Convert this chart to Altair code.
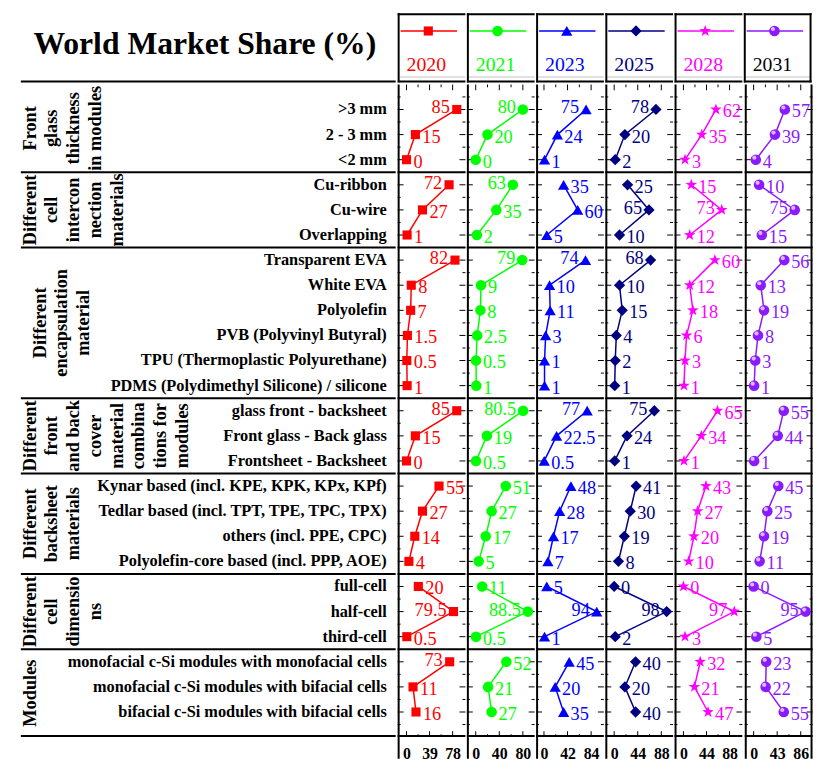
import altair as alt
import pandas as pd

FONT = "Liberation Serif"
TITLE = "World Market Share (%)"
STAR = ("M0,-1L0.235,-0.324L0.951,-0.309L0.38,0.124L0.588,0.809L0,0.4"
        "L-0.588,0.809L-0.38,0.124L-0.951,-0.309L-0.235,-0.324Z")

years = ["2020", "2021", "2023", "2025", "2028", "2031"]
colors = ["#FF0000", "#00FF00", "#0000FF", "#000080", "#FF00FF", "#8B1AFF"]
year_text_colors = ["#FF0000", "#00FF00", "#0000FF", "#000080", "#FF00FF", "#000000"]
shapes = ["square", "circle", "triangle-up", "diamond", STAR, "circle"]
shape_sizes = [85, 115, 130, 130, 150, 115]
tick_max = [78, 80, 84, 88, 88, 86]
x_domains = [[-15, 99.6], [-15, 100], [-14, 106.7], [-16.5, 110], [-16.9, 112.3], [-16.1, 107.5]]
left_label_from = [63, 63, 63, 63, 66, 63]

group_titles = [
    ["Front", "glass", "thickness", "in modules"],
    ["Different", "cell", "intercon", "nection", "materials"],
    ["Different", "encapsulation", "material"],
    ["Different", "front", "and back", "cover", "material", "combina", "tions for", "modules"],
    ["Different", "backsheet", "materials"],
    ["Different", "cell", "dimensio", "ns"],
    ["Modules"],
]
group_items = [
    [">3 mm", "2 - 3 mm", "<2 mm"],
    ["Cu-ribbon", "Cu-wire", "Overlapping"],
    ["Transparent EVA", "White EVA", "Polyolefin", "PVB (Polyvinyl Butyral)",
     "TPU (Thermoplastic Polyurethane)", "PDMS (Polydimethyl Silicone) / silicone"],
    ["glass front - backsheet", "Front glass - Back glass", "Frontsheet - Backsheet"],
    ["Kynar based (incl. KPE, KPK, KPx, KPf)", "Tedlar based (incl. TPT, TPE, TPC, TPX)",
     "others (incl. PPE, CPC)", "Polyolefin-core based (incl. PPP, AOE)"],
    ["full-cell", "half-cell", "third-cell"],
    ["monofacial c-Si modules with monofacial cells", "monofacial c-Si modules with bifacial cells",
     "bifacial c-Si modules with bifacial cells"],
]

v2020 = [85, 15, 0, 72, 27, 1, 82, 8, 7, 1.5, 0.5, 1, 85, 15, 0, 55, 27, 14, 4, 20, 79.5, 0.5, 73, 11, 16]
v2021 = [80, 20, 0, 63, 35, 2, 79, 9, 8, 2.5, 0.5, 1, 80.5, 19, 0.5, 51, 27, 17, 5, 11, 88.5, 0.5, 52, 21, 27]
v2023 = [75, 24, 1, 35, 60, 5, 74, 10, 11, 3, 1, 1, 77, 22.5, 0.5, 48, 28, 17, 7, 5, 94, 1, 45, 20, 35]
v2025 = [78, 20, 2, 25, 65, 10, 68, 10, 15, 4, 2, 1, 75, 24, 1, 41, 30, 19, 8, 0, 98, 2, 40, 20, 40]
v2028 = [62, 35, 3, 15, 73, 12, 60, 12, 18, 6, 3, 1, 65, 34, 1, 43, 27, 20, 10, 0, 97, 3, 32, 21, 47]
v2031 = [57, 39, 4, 10, 75, 15, 56, 13, 19, 8, 3, 1, 55, 44, 1, 45, 25, 19, 11, 0, 95, 5, 23, 22, 55]
values = [v2020, v2021, v2023, v2025, v2028, v2031]

# ---------------- layout ----------------
W, H = 68.5, 660
HH = 70
LW = 379
EXT = 22
Y_DOM = [-1, 25]
ys = alt.Scale(domain=Y_DOM, reverse=True, nice=False, zero=False)

rows = []
i = 0
for g, its in enumerate(group_items):
    for it in its:
        rows.append({"idx": i, "group": g, "item": it})
        i += 1
base = pd.DataFrame(rows)
n_items = len(base)

sep_vals = []
centers = []
for g in range(len(group_items)):
    sub = base[base.group == g]
    s = Y_DOM[0] if g == 0 else float(sub.idx.min()) - 0.5
    e = Y_DOM[1] if g == len(group_items) - 1 else float(sub.idx.max()) + 0.5
    centers.append((s + e) / 2)
    if g > 0:
        sep_vals.append(s)
sep_df = pd.DataFrame({"b": sep_vals})
ymaj_df = pd.DataFrame({"i": list(range(n_items))})
ymin_df = pd.DataFrame({"i": [k + 0.5 for k in range(-1, n_items)]})
one = pd.DataFrame({"a": [0]})


def box(x1, x2, y1, y2, color="black"):
    return alt.Chart(one).mark_rect(color=color).encode(
        x=alt.value(x1), x2=alt.value(x2), y=alt.value(y1), y2=alt.value(y2))


def panel(k):
    df = base.copy()
    df["value"] = values[k]
    df["side"] = ["L" if v >= left_label_from[k] else "R" for v in values[k]]
    xs = alt.Scale(domain=x_domains[k], nice=False, zero=False)
    tmax = tick_max[k]
    major = pd.DataFrame({"t": [0, tmax / 2, tmax]})
    minor = pd.DataFrame({"t": [tmax / 4, 3 * tmax / 4]})
    col = colors[k]
    xaxis = alt.Axis(values=[0, tmax / 2, tmax], title=None, ticks=False, tickSize=0, domain=False,
                     grid=False, labelFont=FONT, labelFontWeight="bold", labelFontSize=16,
                     labelColor="black", labelPadding=9, format="d", labelOverlap=False,
                     labelFlush=False)
    Yi = alt.Y("i:Q", scale=ys, axis=None)
    Xt = alt.X("t:Q", scale=xs, axis=xaxis)
    Yv = alt.Y("idx:Q", scale=ys, axis=None)
    Xv = alt.X("value:Q", scale=xs, axis=xaxis)

    layers = []
    layers.append(alt.Chart(df).mark_line(color=col, strokeWidth=1.5).encode(
        x=Xv, y=Yv, detail="group:N", order="idx:Q"))
    layers.append(alt.Chart(sep_df).mark_tick(color="black", orient="horizontal", thickness=2,
                                              size=W, opacity=1).encode(
        y=alt.Y("b:Q", scale=ys, axis=None), x=alt.value(W / 2)))
    for d, ln in ((ymaj_df, 6), (ymin_df, 3)):
        layers.append(alt.Chart(d).mark_tick(color="black", orient="horizontal", thickness=1,
                                             size=ln, opacity=1).encode(y=Yi, x=alt.value(ln / 2)))
        layers.append(alt.Chart(d).mark_tick(color="black", orient="horizontal", thickness=1,
                                             size=ln, opacity=1).encode(y=Yi, x=alt.value(W - ln / 2)))
    for d, ln in ((major, 6), (minor, 3)):
        layers.append(alt.Chart(d).mark_tick(color="black", orient="vertical", thickness=1,
                                             size=ln, opacity=1).encode(x=Xt, y=alt.value(H - ln / 2)))
        layers.append(alt.Chart(d).mark_tick(color="black", orient="vertical", thickness=1,
                                             size=ln, opacity=1).encode(x=Xt, y=alt.value(ln / 2)))
    layers.append(box(0, 2, 0, H + EXT))
    layers.append(box(0, W, H - 2, H))
    if k == len(years) - 1:
        layers.append(box(W - 2, W, 0, H + EXT))
    layers.append(alt.Chart(df).mark_point(shape=shapes[k], filled=True, size=shape_sizes[k],
                                           color=col, opacity=1).encode(x=Xv, y=Yv))
    if k == len(years) - 1:
        layers.append(alt.Chart(df).mark_point(shape="circle", filled=True, size=18,
                                               color="#D8B8FF", opacity=1).encode(
            x=Xv, y=Yv, xOffset=alt.value(-1.5), yOffset=alt.value(-2)))
    layers.append(alt.Chart(df).transform_filter("datum.side == 'R'").mark_text(
        font=FONT, fontSize=18.5, color=col, align="left", baseline="middle", dx=7, dy=2).encode(
        x=Xv, y=Yv, text=alt.Text("value:Q", format="~g")))
    layers.append(alt.Chart(df).transform_filter("datum.side == 'L'").mark_text(
        font=FONT, fontSize=18.5, color=col, align="right", baseline="middle", dx=-7, dy=-2).encode(
        x=Xv, y=Yv, text=alt.Text("value:Q", format="~g")))
    return alt.layer(*layers).properties(width=W, height=H)


def header(k):
    d = pd.DataFrame({"year": [years[k]]})
    b = alt.Chart(d)
    gray = box(2, W, HH - 6, HH - 5, color="#c4c4c4")
    line = b.mark_rule(color=colors[k], strokeWidth=1.5).encode(
        x=alt.value(3), x2=alt.value(60), y=alt.value(18))
    pt = b.mark_point(shape=shapes[k], filled=True, size=shape_sizes[k], color=colors[k],
                      opacity=1).encode(x=alt.value(31), y=alt.value(18))
    txt = b.mark_text(font=FONT, fontSize=20, color=year_text_colors[k], align="center",
                      baseline="alphabetic").encode(x=alt.value(29), y=alt.value(58), text="year:N")
    parts = [gray, line, pt, txt, box(0, W, 0, 2), box(0, W, HH - 2, HH), box(0, 2, 0, HH)]
    if k == len(years) - 1:
        parts.append(b.mark_point(shape="circle", filled=True, size=18, color="#D8B8FF",
                                  opacity=1).encode(x=alt.value(29.5), y=alt.value(16)))
        parts.append(box(W - 2, W, 0, HH))
    return alt.layer(*parts).properties(width=W, height=HH)


title_chart = alt.layer(
    alt.Chart(pd.DataFrame({"t": [TITLE]})).mark_text(
        font=FONT, fontSize=32, fontWeight="bold", align="center", baseline="alphabetic").encode(
        x=alt.value(186), y=alt.value(41), text="t:N"),
    box(0, LW, HH - 2, HH),
).properties(width=LW, height=HH)

label_layers = [
    alt.Chart(base).mark_text(font=FONT, fontSize=16.5, fontWeight="bold", align="right",
                              baseline="middle").encode(
        x=alt.value(370), y=alt.Y("idx:Q", scale=ys, axis=None), text="item:N"),
    alt.Chart(sep_df).mark_tick(color="black", orient="horizontal", thickness=2, size=LW,
                                opacity=1).encode(
        y=alt.Y("b:Q", scale=ys, axis=None), x=alt.value(LW / 2)),
    box(0, LW, H - 2, H),
]
gdf = pd.DataFrame({"title": ["\n".join(t) for t in group_titles], "c": centers})
for g in range(len(group_titles)):
    xoff = 10 if g == 2 else 0
    label_layers.append(
        alt.Chart(gdf.iloc[[g]]).mark_text(
            font=FONT, fontSize=18.5, fontWeight="bold", angle=270, lineBreak="\n", lineHeight=22,
            align="center", baseline="top").encode(
            x=alt.value(xoff), y=alt.Y("c:Q", scale=ys, axis=None), text="title:N"))
label_chart = alt.layer(*label_layers).properties(width=LW, height=H)

top_row = alt.hconcat(title_chart, *[header(k) for k in range(6)], spacing=0)
body_row = alt.hconcat(label_chart, *[panel(k) for k in range(6)], spacing=0)
chart = alt.vconcat(top_row, body_row, spacing=0).properties(
    padding={"left": 12, "top": 0, "right": 2, "bottom": 0}, background="white"
).configure_view(stroke="transparent")

chart.save("out.html", embed_options={"renderer": "svg", "actions": False})
